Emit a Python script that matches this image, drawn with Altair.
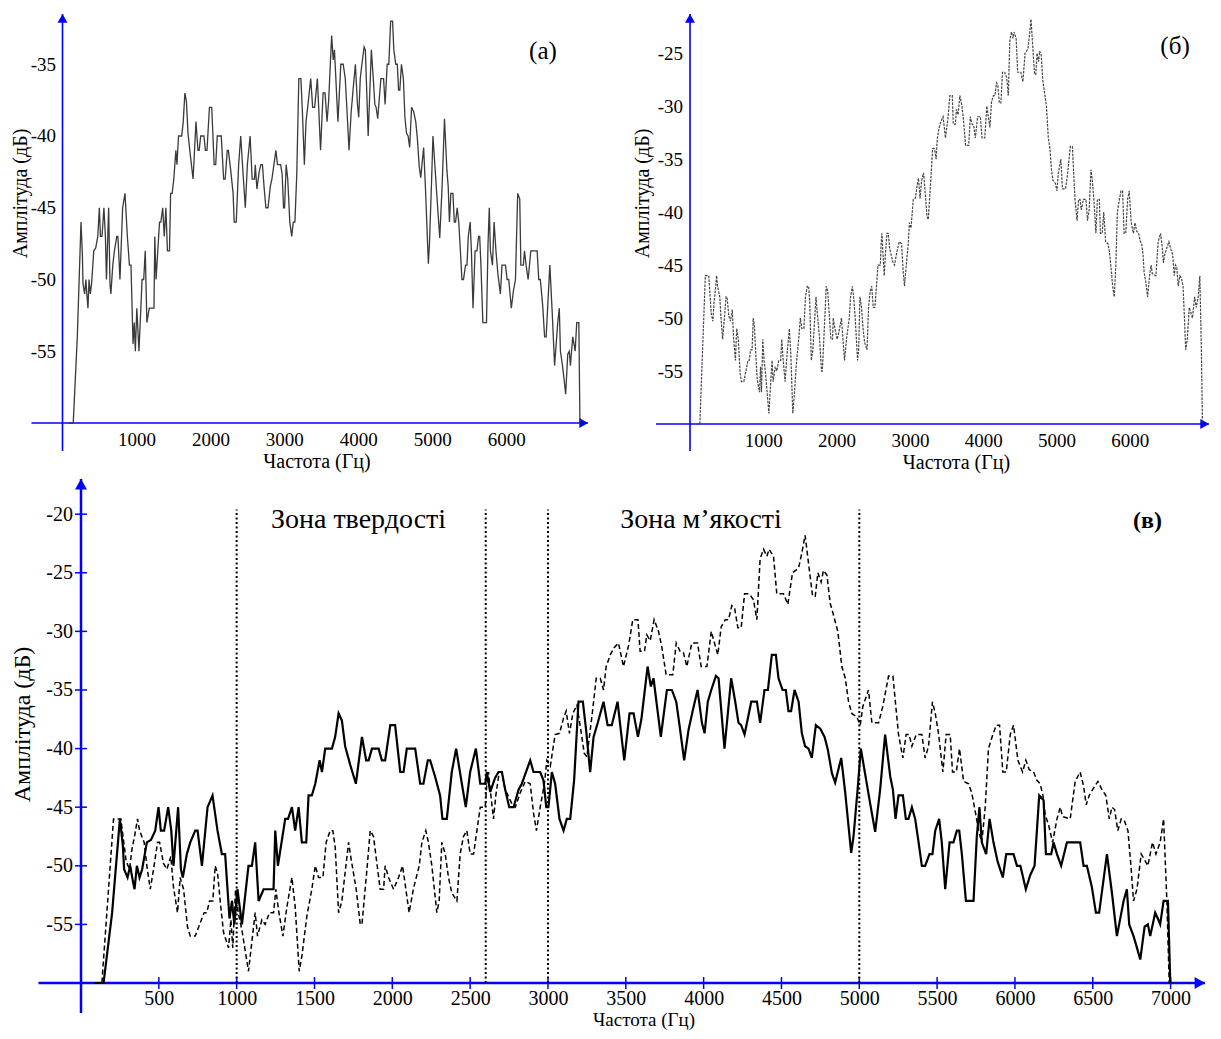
import altair as alt
import pandas as pd

FONT = "Liberation Serif"
BLUE = "#0000ff"

# ---- data: (frequency Hz, amplitude dB) ----
SOLID = [(86,-60),(145,-60),(200,-54),(250,-46),(269,-48.3),(277,-50.3),(299,-51),(316,-50),(329,-51),(344,-52),(359,-50),(376,-51),(393,-50.3),(423,-48),(449,-47.8),(477,-47),(498,-45),(513,-47),(534,-47),(560,-45),(580,-47),(594,-50),(624,-45),(642,-50.3),(654,-51),(680,-49),(702,-48),(734,-47),(749,-47),(777,-50),(813,-45),(845,-44),(877,-47),(905,-49),(926,-49),(954,-54.5),(970,-53),(985,-55),(1005,-52),(1034,-55),(1076,-50),(1098,-50),(1119,-48),(1141,-53),(1173,-52),(1237,-52),(1248,-47),(1265,-50),(1312,-46),(1330,-46),(1355,-45),(1376,-47),(1398,-45),(1419,-48),(1447,-48),(1462,-44),(1483,-44),(1505,-43),(1533,-41),(1548,-42),(1569,-40),(1612,-40),(1633,-39),(1655,-37),(1676,-37.6),(1697,-39.8),(1730,-41.4),(1766,-43),(1805,-39),(1832,-41),(1848,-41),(1869,-40),(1912,-40),(1933,-41),(1954,-41),(1987,-38),(2018,-38),(2051,-42),(2072,-42),(2093,-40),(2147,-40),(2179,-43),(2200,-43),(2228,-41),(2243,-41),(2275,-42.4),(2307,-44),(2322,-46),(2350,-46),(2382,-42),(2410,-40),(2443,-42.7),(2472,-45),(2500,-42),(2537,-40),(2565,-43),(2597,-43),(2607,-42),(2629,-43.7),(2660,-42.5),(2682,-42),(2704,-42),(2725,-43.5),(2751,-45),(2779,-45),(2811,-43.5),(2832,-43),(2886,-41),(2907,-42),(2950,-42),(2971,-42.7),(2989,-45),(3003,-45),(3025,-42),(3046,-43),(3074,-46),(3100,-47),(3121,-46),(3143,-46),(3168,-42.7),(3196,-36),(3224,-36),(3245,-38.4),(3271,-42),(3293,-39),(3320,-37.8),(3357,-36),(3383,-38),(3410,-38),(3447,-36),(3490,-41),(3524,-37),(3550,-37),(3578,-39),(3600,-37.5),(3640,-33),(3661,-34.7),(3678,-34),(3725,-39),(3764,-35),(3796,-35),(3824,-36),(3845,-38),(3875,-41),(3903,-38.4),(3931,-36.7),(3961,-35),(3989,-37.8),(4006,-38.7),(4027,-36),(4049,-35),(4079,-33.8),(4096,-34),(4134,-40),(4177,-34),(4203,-36),(4224,-37.8),(4241,-38),(4263,-38.8),(4306,-36),(4342,-36),(4363,-37.8),(4391,-35),(4413,-35),(4438,-32),(4464,-32),(4481,-34),(4507,-35),(4528,-35),(4545,-36.8),(4562,-36.8),(4584,-35),(4610,-36),(4631,-38.7),(4652,-39.8),(4674,-40),(4695,-40.8),(4721,-38),(4749,-38.3),(4777,-39),(4798,-40.1),(4824,-42.1),(4845,-42.9),(4884,-40.8),(4910,-43.8),(4927,-46.1),(4948,-48.9),(4963,-47.5),(4991,-43.2),(5010,-40),(5038,-42.2),(5070,-44.7),(5102,-47.1),(5134,-43.5),(5166,-38.8),(5199,-42.4),(5216,-43.5),(5233,-46),(5252,-44),(5280,-44),(5299,-46),(5316,-46),(5338,-45),(5359,-46),(5381,-48),(5402,-50),(5423,-50),(5451,-49),(5470,-49),(5488,-47),(5513,-46),(5530,-48),(5552,-52),(5580,-48),(5605,-48),(5627,-47),(5642,-47),(5659,-49),(5685,-53),(5734,-53),(5755,-47.5),(5772,-45),(5787,-48),(5815,-49),(5837,-46),(5862,-48),(5888,-49.6),(5922,-51),(5944,-49),(5991,-49),(6013,-50),(6035,-50),(6070,-52),(6098,-50.8),(6126,-50),(6156,-44),(6184,-44.4),(6199,-49),(6233,-49),(6248,-48),(6270,-49),(6297,-50),(6334,-48),(6419,-48),(6441,-50),(6462,-50),(6494,-51.8),(6520,-54),(6541,-54),(6591,-49),(6623,-52.3),(6655,-56),(6698,-53),(6719,-52),(6734,-55),(6762,-56),(6784,-57),(6805,-58),(6833,-55.2),(6854,-55),(6869,-56),(6901,-54),(6918,-54.5),(6933,-55),(6955,-53),(6983,-53),(6998,-60)]

DASHED = [(86,-60),(134,-60),(209,-46),(256,-46),(273,-47.8),(290,-49.6),(312,-50.3),(327,-48.6),(344,-47.5),(363,-46),(376,-47),(391,-47.5),(406,-48),(423,-50),(445,-52),(466,-50.3),(492,-48),(505,-48),(530,-49.8),(552,-50.3),(577,-49.2),(594,-51.8),(620,-54),(637,-51),(659,-52),(684,-55.2),(702,-56),(734,-56),(762,-55),(791,-54),(808,-54),(826,-53),(847,-53),(862,-50),(877,-50.6),(898,-53.5),(916,-55.7),(933,-56.4),(948,-57),(963,-54.6),(975,-57),(993,-52),(1010,-54),(1034,-55.5),(1076,-59),(1119,-54),(1134,-56),(1162,-54.6),(1183,-55),(1211,-54),(1237,-54),(1252,-52),(1269,-53.8),(1297,-56),(1323,-53.5),(1355,-51),(1376,-53.5),(1402,-59),(1419,-57.7),(1451,-54.3),(1483,-52),(1505,-50),(1526,-51),(1554,-51),(1575,-48),(1601,-47),(1618,-47),(1633,-48.4),(1655,-54),(1676,-53),(1719,-48),(1730,-49),(1768,-52),(1794,-55),(1805,-55),(1837,-50.3),(1858,-47),(1879,-47.5),(1922,-52),(1944,-52),(1954,-50),(1976,-51),(2008,-52),(2040,-51),(2066,-50),(2087,-52),(2108,-54),(2135,-52),(2173,-50),(2190,-48),(2215,-47),(2232,-48),(2254,-50),(2286,-54),(2301,-53),(2318,-48),(2340,-49),(2361,-51),(2382,-52.3),(2415,-53),(2436,-49),(2457,-47.5),(2479,-47),(2500,-49),(2522,-49),(2554,-46),(2565,-45),(2597,-45),(2607,-43),(2618,-42),(2629,-43.5),(2650,-46),(2665,-44),(2687,-42),(2704,-42),(2725,-43.5),(2768,-44.7),(2790,-45),(2821,-43.8),(2854,-42.8),(2886,-43),(2907,-45.5),(2926,-47),(2950,-45),(2977,-43),(2993,-41),(3015,-41.5),(3046,-38.8),(3074,-38.7),(3100,-37.4),(3117,-36.8),(3138,-38.7),(3160,-37),(3186,-36.3),(3211,-38.4),(3233,-40.4),(3250,-40.7),(3282,-37.3),(3310,-34),(3336,-34),(3357,-35),(3374,-33),(3400,-32),(3425,-31.4),(3453,-31),(3485,-33),(3518,-31.2),(3545,-29),(3578,-29),(3592,-31.7),(3620,-31.7),(3635,-30.3),(3657,-30.8),(3682,-29),(3710,-30),(3731,-31.3),(3759,-33.7),(3802,-33.7),(3824,-31),(3849,-31.7),(3870,-31.8),(3892,-33),(3924,-31),(3961,-31),(3984,-33),(4021,-33),(4049,-30),(4070,-31),(4091,-32),(4113,-29.6),(4139,-29),(4160,-29),(4181,-27.8),(4199,-28),(4220,-29.7),(4241,-29.7),(4263,-26.8),(4293,-26.8),(4320,-27.3),(4342,-29),(4363,-23.8),(4385,-23),(4406,-23.6),(4421,-23),(4449,-23.6),(4470,-26.8),(4513,-26.8),(4541,-27.7),(4571,-25),(4610,-24.6),(4631,-23.3),(4652,-21.8),(4674,-24.2),(4700,-27),(4717,-27),(4734,-25),(4755,-25.8),(4770,-24.8),(4792,-25.2),(4813,-27.6),(4828,-28.3),(4862,-30),(4888,-33),(4910,-34),(4931,-36),(4952,-37),(4984,-37.3),(5006,-38),(5023,-36.4),(5059,-35),(5081,-37.8),(5124,-37.8),(5151,-36.4),(5188,-33.8),(5216,-33.8),(5252,-38.8),(5280,-40.8),(5301,-38.8),(5320,-38.8),(5338,-39.8),(5366,-38.8),(5402,-38.8),(5423,-40.8),(5445,-39.8),(5470,-36),(5488,-37),(5509,-38.7),(5537,-42),(5558,-38.8),(5584,-38.8),(5599,-42),(5623,-42),(5644,-40),(5670,-42.8),(5702,-43),(5723,-43.8),(5751,-45.8),(5766,-47),(5787,-48),(5809,-45),(5830,-40),(5858,-38.8),(5880,-38),(5901,-38),(5922,-42),(5944,-42),(5970,-38.8),(5991,-38),(6019,-41),(6049,-42),(6070,-41),(6092,-41.8),(6120,-42),(6141,-42.7),(6162,-43),(6180,-44),(6195,-45.7),(6216,-46.5),(6242,-48),(6270,-46),(6291,-45),(6306,-45.8),(6355,-46),(6387,-42.8),(6419,-42),(6441,-43.2),(6458,-44.8),(6477,-44),(6499,-43.5),(6533,-42.8),(6559,-43.5),(6584,-44),(6606,-46),(6623,-45),(6640,-45.2),(6661,-47),(6683,-46),(6704,-46.2),(6726,-47),(6747,-50.3),(6762,-53),(6784,-52),(6811,-49),(6833,-49.5),(6854,-50),(6884,-48),(6906,-49),(6933,-48),(6955,-46),(6976,-53),(6991,-60)]

X_TICKS_TOP = [1000, 2000, 3000, 4000, 5000, 6000]
Y_TICKS_A = [-55, -50, -45, -40, -35]
Y_TICKS_B = [-55, -50, -45, -40, -35, -30, -25]
X_TICKS_C = [500, 1000, 1500, 2000, 2500, 3000, 3500, 4000, 4500, 5000, 5500, 6000, 6500, 7000]
Y_TICKS_C = [-55, -50, -45, -40, -35, -30, -25, -20]
ZONE_LINES = [1000, 2600, 3000, 5000]
ZONE_LABELS = ["Зона твердості", "Зона м’якості"]
ZONE_LABEL_HZ = [1783, 3983]


def series_df(pairs):
    return pd.DataFrame({"f": [p[0] for p in pairs], "a": [p[1] for p in pairs]})


def make_panel(width, height, xdom, ydom, xleft, ybottom, xvals, yvals,
               lab_size, title_size, xlab_pad, ylab_pad, xtitle_pad, ytitle_pad,
               title_x, title_y, axis_w, arrow_size, lines, texts, ticks=False,
               zones=None, yaxis_offset=0, xtitle_size=None):
    X = alt.X("f:Q", scale=alt.Scale(domain=xdom, nice=False, zero=False),
              axis=alt.Axis(values=xvals, title="Частота (Гц)", labelExpr="'' + datum.value",
                            labelFont=FONT, titleFont=FONT, labelFontSize=lab_size,
                            titleFontSize=xtitle_size or title_size, labelPadding=xlab_pad,
                            titlePadding=xtitle_pad, titleX=title_x, labelFlush=False,
                            labelOverlap=False))
    Y = alt.Y("a:Q", scale=alt.Scale(domain=ydom, nice=False, zero=False),
              axis=alt.Axis(values=yvals, title="Амплітуда (дБ)", labelExpr="'' + datum.value",
                            labelFont=FONT, titleFont=FONT, labelFontSize=lab_size,
                            titleFontSize=title_size, labelPadding=ylab_pad,
                            titlePadding=ytitle_pad, titleY=title_y, labelFlush=False,
                            labelOverlap=False, offset=yaxis_offset))
    h = (3 ** 0.5) * (arrow_size ** 0.5) / 4.0
    hline = alt.Chart(pd.DataFrame({"f": [xleft], "f2": [xdom[1]], "a": [-60]})).mark_rule(
        color=BLUE, strokeWidth=axis_w).encode(x=X, x2="f2:Q", y=Y)
    vline = alt.Chart(pd.DataFrame({"f": [0], "a": [ybottom], "a2": [ydom[1]]})).mark_rule(
        color=BLUE, strokeWidth=axis_w).encode(x=X, y=Y, y2="a2:Q")
    up = alt.Chart(pd.DataFrame({"f": [0], "a": [ydom[1]]})).mark_point(
        shape="triangle-up", filled=True, size=arrow_size, color=BLUE, opacity=1,
        strokeWidth=0, yOffset=h).encode(x=X, y=Y)
    right = alt.Chart(pd.DataFrame({"f": [xdom[1]], "a": [-60]})).mark_point(
        shape="triangle-right", filled=True, size=arrow_size, color=BLUE, opacity=1,
        strokeWidth=0, xOffset=-h).encode(x=X, y=Y)
    layers = [hline, vline, up, right]
    if ticks:
        xt = alt.Chart(pd.DataFrame({"f": xvals, "a": [-60] * len(xvals)})).mark_tick(
            orient="vertical", size=12, thickness=1.5, color=BLUE, opacity=1).encode(x=X, y=Y)
        yt = alt.Chart(pd.DataFrame({"f": [0] * len(yvals), "a": yvals})).mark_tick(
            orient="horizontal", size=12, thickness=1.5, color=BLUE, opacity=1).encode(x=X, y=Y)
        layers += [xt, yt]
    if zones is not None:
        zl = alt.Chart(pd.DataFrame({"f": zones[0], "a": [-60] * len(zones[0]),
                                     "a2": [zones[1]] * len(zones[0])})).mark_rule(
            color="black", strokeWidth=2, strokeDash=[2, 2.5]).encode(x=X, y=Y, y2="a2:Q")
        layers.append(zl)
    for pairs, style in lines:
        layers.append(alt.Chart(series_df(pairs)).mark_line(**style).encode(x=X, y=Y))
    for t in texts:
        df, style = t
        layers.append(alt.Chart(df).mark_text(font=FONT, align="center", baseline="middle",
                                              color="black", **style).encode(x=X, y=Y, text="t:N"))
    return alt.layer(*layers).properties(width=width, height=height)


# panel (а): plot area starts 18.5 px right of its y-axis so that it lines up with panel (в)
panel_a = make_panel(
    507, 409, [250, 7107], [-60, -31.5], -420, -61.95, X_TICKS_TOP, Y_TICKS_A,
    19, 20, 7, 7, 2.6, -0.6, 235.5, 179, 1.6, 100,
    lines=[(SOLID, dict(color="#3a3a3a", strokeWidth=1.3))],
    texts=[(pd.DataFrame({"f": [6498], "a": [-34.1], "t": ["(а)"]}), dict(fontSize=25))],
    yaxis_offset=18.5)

panel_b = make_panel(
    519, 410, [0, 7080], [-60, -21.3], -464, -62.55, X_TICKS_TOP, Y_TICKS_B,
    19, 20, 7, 7.5, 2.6, 4.9, 266, 179, 1.6, 100,
    lines=[(DASHED, dict(color="#444444", strokeWidth=1.2, strokeDash=[2.5, 1.2]))],
    texts=[(pd.DataFrame({"f": [6617], "a": [-24.3], "t": ["(б)"]}), dict(fontSize=25))])

panel_c = make_panel(
    1124, 504, [0, 7221], [-60, -17], -273, -62.55, X_TICKS_C, Y_TICKS_C,
    20, 24, 5, 8.5, 2, 11.2, 562.5, 245, 2.5, 144,
    lines=[(DASHED, dict(color="black", strokeWidth=1.5, strokeDash=[5, 3])),
           (SOLID, dict(color="black", strokeWidth=2.2))],
    texts=[(pd.DataFrame({"f": ZONE_LABEL_HZ, "a": [-20.5, -20.5], "t": ZONE_LABELS}), dict(fontSize=28)),
           (pd.DataFrame({"f": [6852], "a": [-20.6], "t": ["(в)"]}), dict(fontSize=24, fontWeight="bold"))],
    ticks=True, zones=(ZONE_LINES, -19.6), xtitle_size=19)

chart = alt.vconcat(
    alt.hconcat(panel_a, panel_b, spacing=43),
    panel_c, spacing=4
).properties(
    padding={"left": 2, "top": 5, "right": 0, "bottom": 1}
).configure_view(stroke=None).configure_axis(
    grid=False, domain=False, ticks=False, labelColor="black", titleColor="black",
    titleFontWeight="normal"
)

chart.save("out.html", embed_options={"renderer": "svg", "actions": False})
